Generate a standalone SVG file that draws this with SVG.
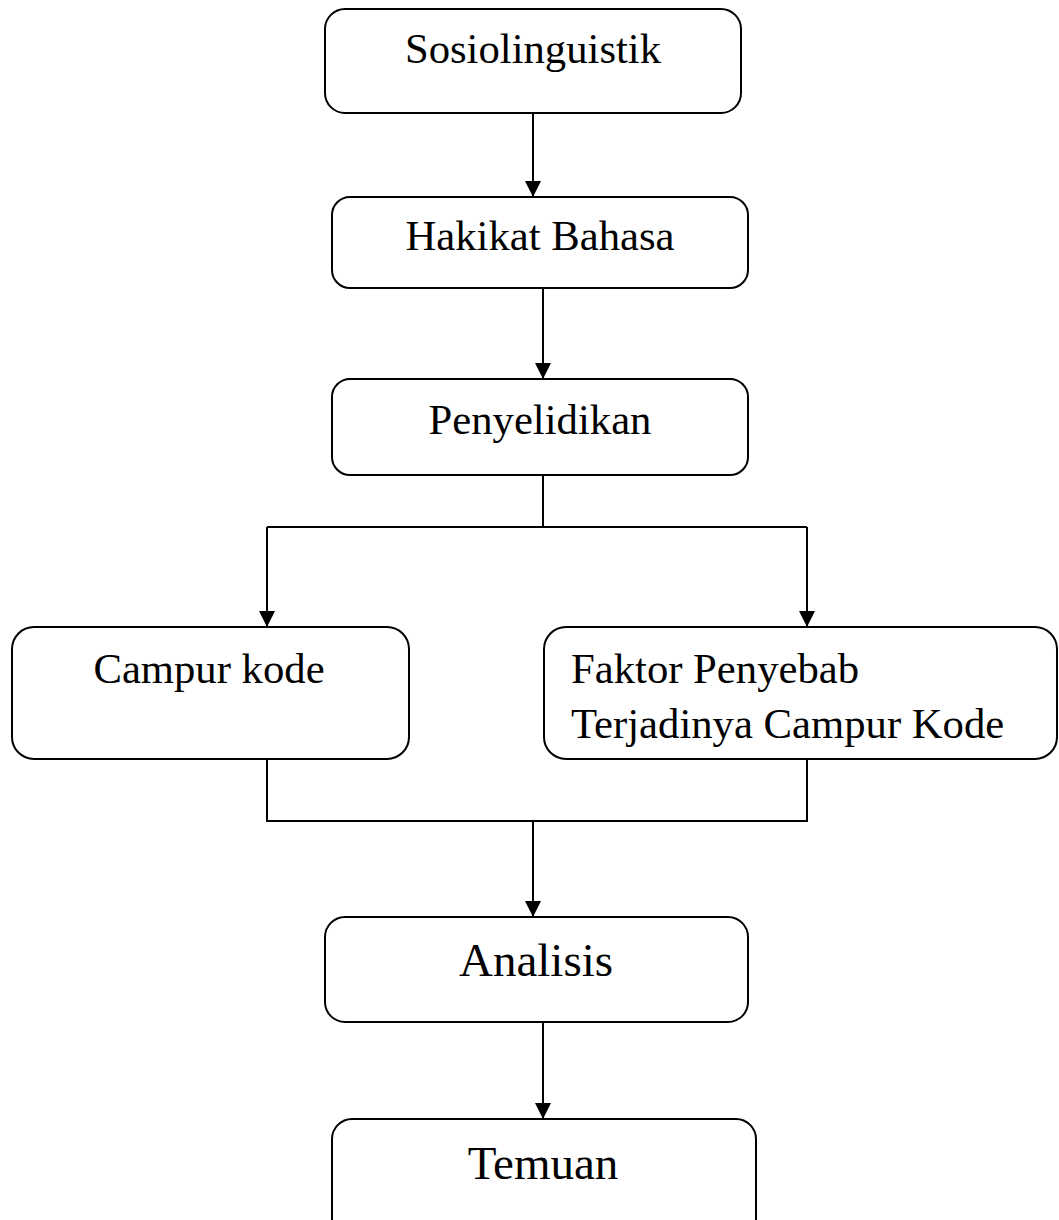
<svg xmlns="http://www.w3.org/2000/svg" width="1059" height="1220" viewBox="0 0 1059 1220">
<style>
.box{fill:#fff;stroke:#000;stroke-width:2}
.lbl{font-family:"Liberation Serif","Times New Roman",serif;font-size:42.7px;fill:#000}
.big{font-size:47px}
.conn{fill:none;stroke:#000;stroke-width:2}
</style>
<defs>
<marker id="arr" markerUnits="userSpaceOnUse" markerWidth="16" markerHeight="18" refX="16" refY="8" orient="auto">
<path d="M0,0 L16,8 L0,16 Z" fill="#000"/>
</marker>
</defs>
<rect width="1059" height="1220" fill="#fff"/>
<g id="connectors">
<path class="conn" d="M533,113 V197" marker-end="url(#arr)"/>
<path class="conn" d="M543,288 V379" marker-end="url(#arr)"/>
<path class="conn" d="M543,475 V527 M267,527 H807"/>
<path class="conn" d="M267,527 V627" marker-end="url(#arr)"/>
<path class="conn" d="M807,527 V627" marker-end="url(#arr)"/>
<path class="conn" d="M267,759 V821 H807 V759"/>
<path class="conn" d="M533,821 V917" marker-end="url(#arr)"/>
<path class="conn" d="M543,1022 V1119" marker-end="url(#arr)"/>
</g>
<g id="n1"><rect class="box" x="325" y="9" width="416" height="104" rx="20"/><text class="lbl" x="533" y="63" text-anchor="middle">Sosiolinguistik</text></g>
<g id="n2"><rect class="box" x="332" y="197" width="416" height="91" rx="18"/><text class="lbl" x="540" y="250" text-anchor="middle">Hakikat Bahasa</text></g>
<g id="n3"><rect class="box" x="332" y="379" width="416" height="96" rx="18"/><text class="lbl" x="540" y="434" text-anchor="middle">Penyelidikan</text></g>
<g id="n4"><rect class="box" x="12" y="627" width="397" height="132" rx="22"/><text class="lbl" x="209" y="683" text-anchor="middle">Campur kode</text></g>
<g id="n5"><rect class="box" x="544" y="627" width="513" height="132" rx="22"/><text class="lbl" x="571" y="683">Faktor Penyebab</text><text class="lbl" x="571" y="738">Terjadinya Campur Kode</text></g>
<g id="n6"><rect class="box" x="325" y="917" width="423" height="105" rx="20"/><text class="lbl big" x="536" y="976" text-anchor="middle">Analisis</text></g>
<g id="n7"><rect class="box" x="332" y="1119" width="424" height="130" rx="20"/><text class="lbl big" x="543" y="1179" text-anchor="middle">Temuan</text></g>
</svg>
